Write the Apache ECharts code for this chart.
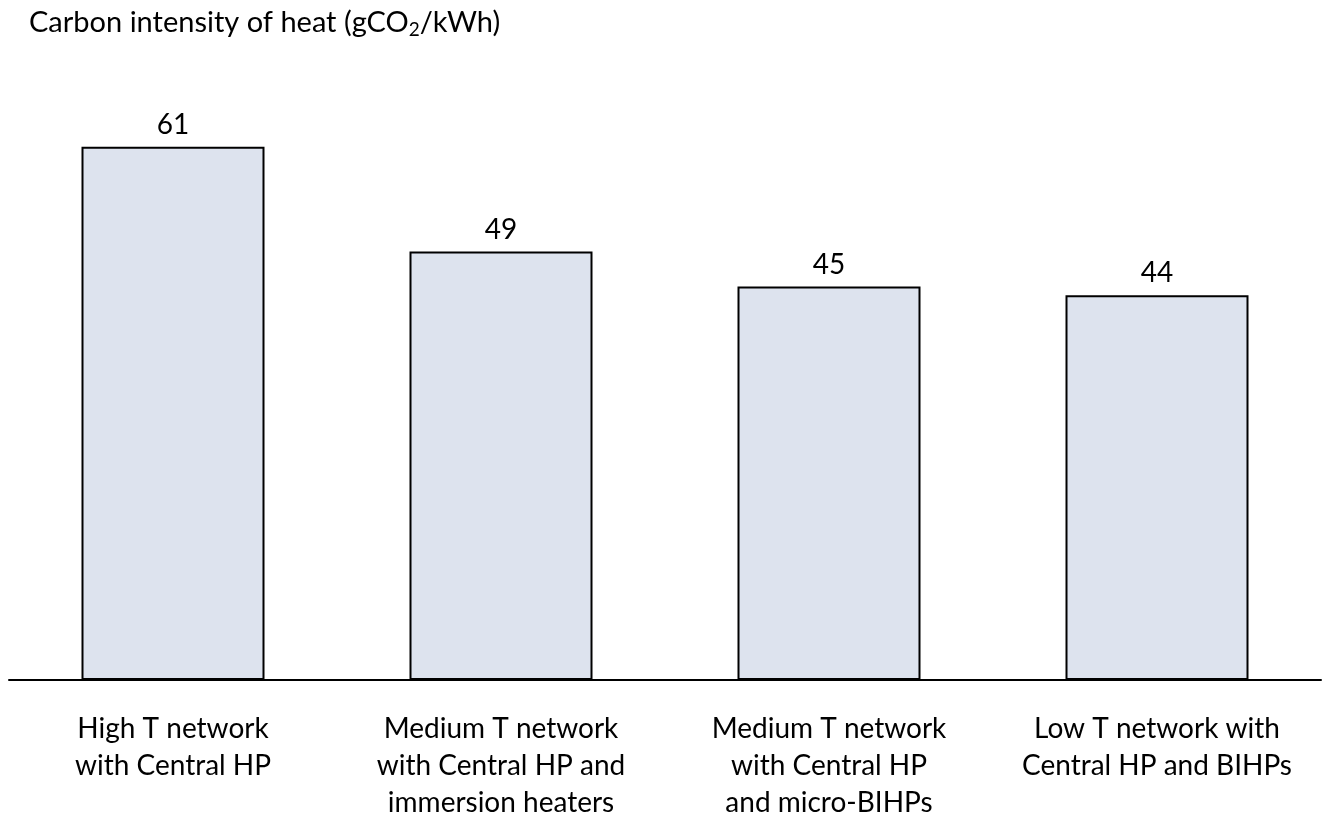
<!DOCTYPE html>
<html>
<head>
<meta charset="utf-8">
<script src="https://cdn.jsdelivr.net/npm/echarts@6/dist/echarts.min.js"></script>
<style>
html,body{margin:0;padding:0;background:#fff;}
#main{width:1322px;height:821px;}
</style>
</head>
<body>
<div id="main"></div>
<script>
const categories = [
  'High T network\nwith Central HP',
  'Medium T network\nwith Central HP and\nimmersion heaters',
  'Medium T network\nwith Central HP\nand micro-BIHPs',
  'Low T network with\nCentral HP and BIHPs'
];
const values = [61, 49, 45, 44];
const titleText = ['Carbon intensity of heat (gCO', '2', '/kWh)'];

const FONT = 'Lato';
const chart = echarts.init(document.getElementById('main'), null, {renderer: 'canvas'});
chart.setOption({
  backgroundColor: '#ffffff',
  animation: false,
  textStyle: {fontFamily: FONT, color: '#000'},
  title: {
    text: '{a|' + titleText[0] + '}{s|' + titleText[1] + '}{a|' + titleText[2] + '}',
    left: 29,
    top: 8,
    padding: 0,
    textStyle: {
      fontWeight: 'normal',
      rich: {
        a: {fontFamily: FONT, fontSize: 29, fontWeight: 'normal', color: '#000', lineHeight: 30},
        s: {fontFamily: FONT, fontSize: 19, fontWeight: 'normal', color: '#000', lineHeight: 30, padding: [14, 0, 0, 0]}
      }
    }
  },
  grid: {left: 9, right: 1, top: 68, bottom: 139, containLabel: false},
  xAxis: {
    type: 'category',
    data: categories,
    axisLine: {show: true, lineStyle: {color: '#000', width: 2}},
    axisTick: {show: false},
    axisLabel: {
      interval: 0,
      fontFamily: FONT,
      fontSize: 28,
      color: '#000',
      lineHeight: 37,
      margin: 30
    }
  },
  yAxis: {
    type: 'value',
    min: 0,
    max: 70,
    show: false,
    splitLine: {show: false}
  },
  series: [{
    type: 'bar',
    data: values,
    barWidth: 183,
    itemStyle: {color: '#dde3ee', borderColor: '#000', borderWidth: 2},
    label: {
      show: true,
      position: 'top',
      distance: 8,
      fontFamily: FONT,
      fontSize: 28,
      color: '#000'
    }
  }]
});
</script>
</body>
</html>
